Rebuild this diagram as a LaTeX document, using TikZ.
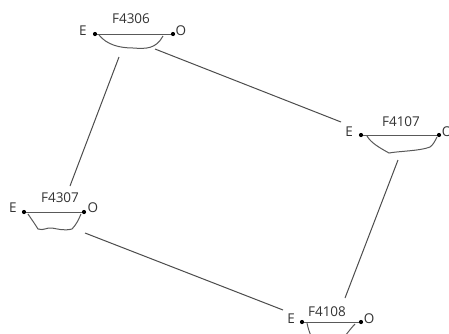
\documentclass[tikz,border=0pt]{standalone}
\usepackage{fontspec}
\setmainfont{Open Sans}
\tikzset{
  every picture/.style={x=1pt,y=-1pt},
  lbl/.style={inner sep=0pt,font=\fontsize{13.5}{15}\selectfont,text=black!80},
  dotn/.style={circle,fill=black,inner sep=0pt,minimum size=4.2pt},
  basin/.style={draw=black!65,line width=1pt},
  link/.style={draw=black!70,line width=1pt}
}
\begin{document}
\begin{tikzpicture}
\useasboundingbox (0,0) rectangle (449,333);
\clip (0,0) rectangle (449,333);
% F4306
\node[dotn] (e1) at (95,34) {};
\node[dotn] (o1) at (173,34) {};
\node[lbl] (t1) at (131,18.5) {F4306};
\node[lbl] (le1) at (83,31) {E};
\node[lbl] (lo1) at (181,31) {O};
\draw[basin] (e1) -- (o1);
\draw[basin] (99,35) .. controls (107,45) and (120,48) .. (133,48) .. controls (146,49) and (156,49) .. (163,36);
% F4107
\node[dotn] (e2) at (361,135) {};
\node[dotn] (o2) at (439,135) {};
\node[lbl] (t2) at (401,122) {F4107};
\node[lbl] (le2) at (349,132) {E};
\node[lbl] (lo2) at (447,132) {O};
\draw[basin] (e2) -- (o2);
\draw[basin] (367,136) .. controls (371,143) and (380,148) .. (389,153) .. controls (400,151) and (420,151) .. (430,147) .. controls (433,145) and (435,141) .. (437,137);
% F4307
\node[dotn] (e3) at (24,212) {};
\node[dotn] (o3) at (84,212) {};
\node[lbl] (t3) at (60,198) {F4307};
\node[lbl] (le3) at (13,208) {E};
\node[lbl] (lo3) at (93,208) {O};
\draw[basin] (e3) -- (o3);
\draw[basin] (28,214) .. controls (32,220) and (35,224) .. (38,229) .. controls (44,231) and (47,227) .. (52,228) .. controls (58,229) and (64,231) .. (72,229) .. controls (76,225) and (79,219) .. (81,214);
% F4108
\node[dotn] (e4) at (302,322) {};
\node[dotn] (o4) at (361,322) {};
\node[lbl] (t4) at (327,312) {F4108};
\node[lbl] (le4) at (291,319) {E};
\node[lbl] (lo4) at (369,319) {O};
\draw[basin] (e4) -- (o4);
\draw[basin] (307,323) .. controls (308,328) and (309,331) .. (311,336) -- (345,336) .. controls (349,331) and (352,327) .. (355,324);
% connectors
\coordinate (a1) at (119,57); \coordinate (a2) at (70,186);
\coordinate (b1) at (155,49); \coordinate (b2) at (341,122);
\coordinate (c1) at (398,160); \coordinate (c2) at (345,298);
\coordinate (d1) at (85,233); \coordinate (d2) at (283,310);
\draw[link] (a1) -- (a2);
\draw[link] (b1) -- (b2);
\draw[link] (c1) -- (c2);
\draw[link] (d1) -- (d2);
\end{tikzpicture}
\end{document}
